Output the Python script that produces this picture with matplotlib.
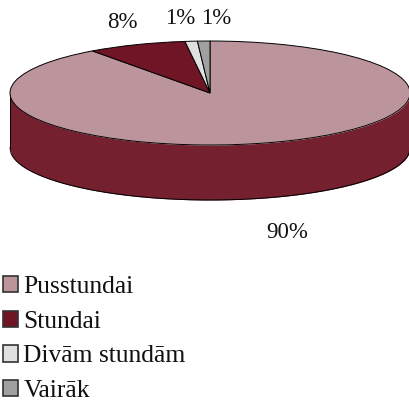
import numpy as np
import matplotlib
matplotlib.use("Agg")
import matplotlib.pyplot as plt

# dati
kategorijas = ["Pusstundai", "Stundai", "Divām stundām", "Vairāk"]
vertibas = [90, 8, 1, 1]
etiketes = ["90%", "8%", "1%", "1%"]
krasas = ["#BC959C", "#6F1526", "#E0E0E0", "#A0A0A0"]
sana = "#75202F"

W, H = 409, 403
cx, cy = 210, 93
rx, ry = 200, 52
dziljums = 55

plt.rcParams["font.family"] = ["Liberation Serif", "DejaVu Serif"]

fig = plt.figure(figsize=(W / 100, H / 100), dpi=100)
ax = fig.add_axes([0, 0, 1, 1])

wedges, _ = ax.pie(vertibas, colors=krasas, startangle=90, counterclock=False,
                   wedgeprops=dict(edgecolor="black", linewidth=0.7, zorder=3))
ax.set_aspect("auto")
ax.set_xlim(-cx / rx, (W - cx) / rx)
ax.set_ylim((cy - H) / ry, cy / ry)
ax.axis("off")

# sānu siena
x = np.linspace(-1, 1, 400)
aug = -np.sqrt(1 - x ** 2)
d = dziljums / ry
ax.fill_between(x, aug, aug - d, color=sana, zorder=1, linewidth=0)
ax.plot(x, aug - d, color="black", lw=0.7, zorder=2)
ax.plot([-1, -1], [0, -d], color="black", lw=0.7, zorder=2)
ax.plot([1, 1], [0, -d], color="black", lw=0.7, zorder=2)

# procentu etiķetes
poz = [(287, 233), (122, 23), (180, 19), (216, 19)]
for et, (px, py) in zip(etiketes, poz):
    ax.text((px - cx) / rx, (cy - py) / ry, et, fontsize=16.5, ha="center",
            va="center", color="#111111")

leg = ax.legend(wedges, kategorijas, loc="upper left",
                bbox_to_anchor=(3 / W, 1 - 276 / H), frameon=False,
                fontsize=18.4, borderpad=0, borderaxespad=0,
                handlelength=0.6, handleheight=0.6, handletextpad=0.2,
                labelspacing=0.49, labelcolor="#111111")
for h in leg.legend_handles:
    h.set_edgecolor("#333333")
    h.set_linewidth(1.2)

fig.savefig("out.png", dpi=100)
